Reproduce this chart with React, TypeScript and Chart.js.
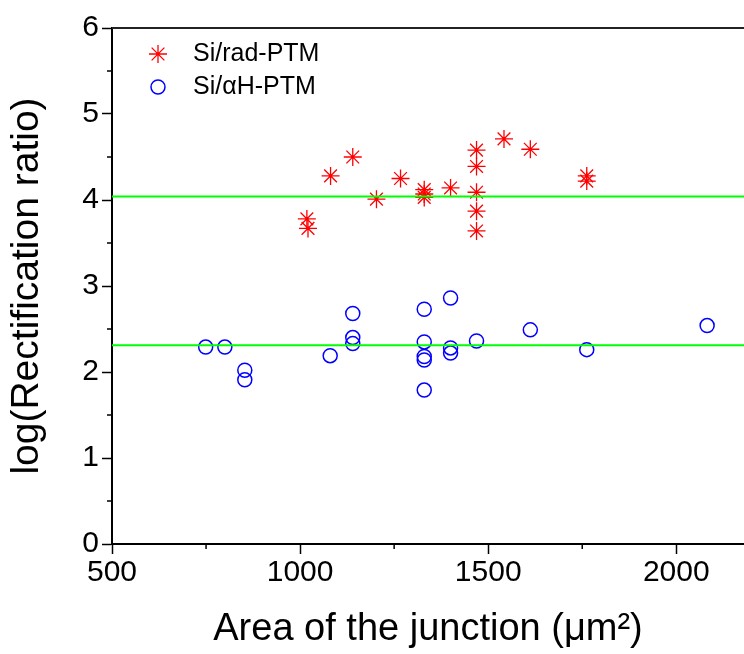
import React, { useEffect, useRef } from 'react';
import { Chart, registerables } from 'chart.js';

Chart.register(...registerables);

// ---- Data ----
const radArea = [1018, 1021, 1081, 1140, 1203, 1267, 1330, 1330, 1330, 1400, 1469, 1469, 1469, 1469, 1469, 1542, 1612, 1762, 1762];
const radLog = [3.78, 3.67, 4.28, 4.5, 4.01, 4.25, 4.12, 4.07, 4.03, 4.14, 4.58, 4.39, 4.09, 3.87, 3.64, 4.71, 4.59, 4.28, 4.22];

const hArea = [749, 800, 853, 853, 1080, 1140, 1140, 1140, 1330, 1330, 1330, 1330, 1330, 1400, 1400, 1400, 1469, 1612, 1762, 2082];
const hLog = [2.29, 2.29, 2.02, 1.91, 2.19, 2.68, 2.4, 2.33, 2.73, 2.35, 2.18, 2.14, 1.79, 2.86, 2.28, 2.22, 2.36, 2.49, 2.26, 2.54];

const radMean = 4.04;
const hMean = 2.31;

const xMin = 500;
const xMax = 2180;
const yMin = 0;
const yMax = 6;

const xTicks = [500, 1000, 1500, 2000];
const xMinorTicks = [750, 1250, 1750];
const yTicks = [0, 1, 2, 3, 4, 5, 6];
const yMinorTicks = [0.5, 1.5, 2.5, 3.5, 4.5, 5.5];

const seriesNames = ['Si/rad-PTM', 'Si/\u03B1H-PTM'];
const xTitle = 'Area of the junction (\u03BCm\u00B2)';
const yTitle = 'log(Rectification ratio)';

const FONT = "'Liberation Sans', Arial, sans-serif";

function drawStar(ctx: CanvasRenderingContext2D, x: number, y: number, r: number) {
  ctx.beginPath();
  ctx.moveTo(x - r, y);
  ctx.lineTo(x + r, y);
  ctx.moveTo(x, y - r);
  ctx.lineTo(x, y + r);
  const d = r * Math.SQRT1_2;
  ctx.moveTo(x - d, y - d);
  ctx.lineTo(x + d, y + d);
  ctx.moveTo(x - d, y + d);
  ctx.lineTo(x + d, y - d);
  ctx.stroke();
}

const extrasPlugin = {
  id: 'extras',
  afterDraw(chart: any) {
    const { ctx, chartArea } = chart;
    const xs = chart.scales.x;
    const ys = chart.scales.y;
    ctx.save();
    // top border
    ctx.strokeStyle = '#222';
    ctx.lineWidth = 2;
    ctx.beginPath();
    ctx.moveTo(chartArea.left, chartArea.top);
    ctx.lineTo(chartArea.right, chartArea.top);
    ctx.stroke();
    // minor ticks
    ctx.strokeStyle = '#000';
    ctx.lineWidth = 1.5;
    ctx.beginPath();
    xMinorTicks.forEach((v) => {
      const px = xs.getPixelForValue(v);
      ctx.moveTo(px, chartArea.bottom);
      ctx.lineTo(px, chartArea.bottom + 5);
    });
    yMinorTicks.forEach((v) => {
      const py = ys.getPixelForValue(v);
      ctx.moveTo(chartArea.left, py);
      ctx.lineTo(chartArea.left - 5, py);
    });
    ctx.stroke();

    // legend
    const lx = chartArea.left + 46;
    const ly1 = chartArea.top + 26;
    const ly2 = chartArea.top + 59;
    ctx.strokeStyle = '#ff0000';
    ctx.lineWidth = 1.3;
    drawStar(ctx, lx, ly1, 9);
    ctx.strokeStyle = '#0000ff';
    ctx.lineWidth = 1.5;
    ctx.beginPath();
    ctx.arc(lx, ly2, 7, 0, Math.PI * 2);
    ctx.stroke();
    ctx.fillStyle = '#000';
    ctx.font = `25px ${FONT}`;
    ctx.textBaseline = 'middle';
    ctx.textAlign = 'left';
    ctx.fillText(seriesNames[0], lx + 35, ly1);
    ctx.fillText(seriesNames[1], lx + 35, ly2);
    ctx.restore();
  },
};

export default function App() {
  const ref = useRef<HTMLCanvasElement | null>(null);

  useEffect(() => {
    document.body.style.margin = '0';
    const canvas = ref.current;
    if (!canvas) return;
    const chart = new Chart(canvas, {
      type: 'scatter',
      data: {
        datasets: [
          {
            label: seriesNames[0],
            data: radArea.map((x, i) => ({ x, y: radLog[i] })),
            pointStyle: 'star',
            pointRadius: 9,
            borderColor: '#ff0000',
            backgroundColor: '#ff0000',
            borderWidth: 1.3,
            order: 2,
          },
          {
            label: seriesNames[1],
            data: hArea.map((x, i) => ({ x, y: hLog[i] })),
            pointStyle: 'circle',
            pointRadius: 7,
            borderColor: '#0000ff',
            backgroundColor: 'rgba(0,0,0,0)',
            borderWidth: 1.5,
            order: 2,
          },
          {
            type: 'line',
            label: 'mean rad',
            data: [
              { x: xMin, y: radMean },
              { x: xMax, y: radMean },
            ],
            borderColor: '#00ff00',
            borderWidth: 2,
            pointRadius: 0,
            order: 1,
          } as any,
          {
            type: 'line',
            label: 'mean H',
            data: [
              { x: xMin, y: hMean },
              { x: xMax, y: hMean },
            ],
            borderColor: '#00ff00',
            borderWidth: 2,
            pointRadius: 0,
            order: 1,
          } as any,
        ],
      },
      options: {
        responsive: false,
        animation: false,
        devicePixelRatio: 1,
        layout: { autoPadding: false, padding: { top: 28, right: 0, left: 0, bottom: 0 } },
        plugins: {
          legend: { display: false },
          tooltip: { enabled: false },
        },
        scales: {
          x: {
            type: 'linear',
            min: xMin,
            max: xMax,
            afterBuildTicks: (s: any) => {
              s.ticks = xTicks.map((v) => ({ value: v }));
            },
            afterFit: (s: any) => {
              s.height = 110;
            },
            ticks: {
              font: { family: FONT, size: 30 },
              color: '#000',
              padding: 1,
              maxRotation: 0,
              autoSkip: false,
              callback: (v: any) => String(v),
            },
            grid: {
              drawOnChartArea: false,
              drawTicks: true,
              tickLength: 10,
              tickColor: '#000',
              tickWidth: 1.5,
            },
            border: { display: true, color: '#000', width: 2 },
            title: {
              display: true,
              text: xTitle,
              font: { family: FONT, size: 38 },
              color: '#000',
              padding: { top: 0, bottom: 2 },
            },
          },
          y: {
            type: 'linear',
            min: yMin,
            max: yMax,
            afterBuildTicks: (s: any) => {
              s.ticks = yTicks.map((v) => ({ value: v }));
            },
            afterFit: (s: any) => {
              s.width = 112;
            },
            ticks: {
              font: { family: FONT, size: 30 },
              color: '#000',
              padding: 3,
              autoSkip: false,
              callback: (v: any) => String(v),
            },
            grid: {
              drawOnChartArea: false,
              drawTicks: true,
              tickLength: 10,
              tickColor: '#000',
              tickWidth: 1.5,
            },
            border: { display: true, color: '#000', width: 2 },
            title: {
              display: true,
              text: yTitle,
              font: { family: FONT, size: 39 },
              color: '#000',
              padding: { top: 4, bottom: 0 },
            },
          },
        },
      },
      plugins: [extrasPlugin],
    } as any);
    return () => chart.destroy();
  }, []);

  return (
    <div style={{ width: 744, height: 654, position: 'relative', background: '#fff' }}>
      <canvas ref={ref} width={744} height={654} style={{ width: 744, height: 654, display: 'block' }} />
    </div>
  );
}
